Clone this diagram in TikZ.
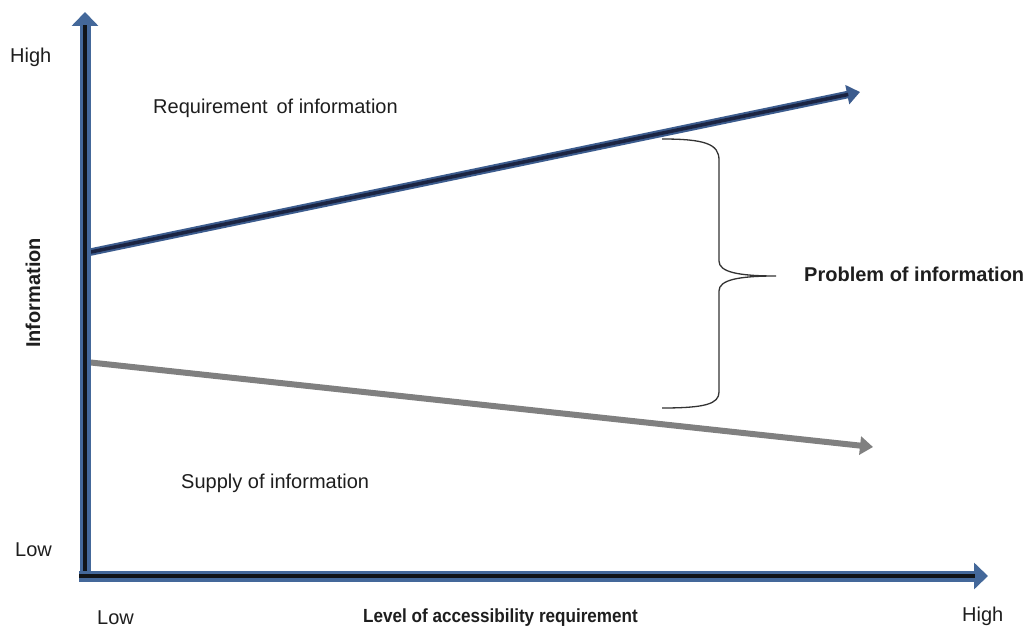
\documentclass[tikz,border=0pt]{standalone}
\usepackage{fontspec}
\setmainfont{Liberation Sans}
\usetikzlibrary{arrows.meta}
\definecolor{axisblue}{HTML}{44689A}
\definecolor{axiscore}{HTML}{111418}
\definecolor{reqblue}{HTML}{3C5C8E}
\definecolor{reqcore}{HTML}{1B2442}
\definecolor{supplygray}{HTML}{808080}
\definecolor{bracegray}{HTML}{333333}
\definecolor{textgray}{HTML}{1E1E1E}
\begin{document}
\begin{tikzpicture}[x=1pt,y=-1pt,
  lbl/.style={inner sep=0pt, font=\fontsize{20}{24}\selectfont, text=textgray},
  boldlbl/.style={lbl, font=\fontsize{20}{24}\selectfont\bfseries},
  axisline/.style={axisblue, line width=11pt, -{Triangle[length=14pt,width=26pt]}},
  axiscoreline/.style={axiscore, line width=4pt, shorten >=13pt},
  reqline/.style={reqblue, line width=7.5pt, -{Triangle[length=13pt,width=19pt]}},
  reqcoreline/.style={reqcore, line width=3.5pt, shorten >=12pt},
  supplyline/.style={supplygray, line width=6pt, -{Triangle[length=13pt,width=18pt]}},
  bracestyle/.style={bracegray, line width=1.3pt}
]
\useasboundingbox[fill=white] (0,0) rectangle (1034,628);

% key points
\coordinate (yfoot) at (85,571);
\coordinate (ytip)  at (85,12);
\coordinate (xfoot) at (79,576);
\coordinate (xtip)  at (988,576);
\coordinate (reqstart) at (86,253);
\coordinate (reqtip)   at (860,92);
\coordinate (supstart) at (86,362);
\coordinate (suptip)   at (873,447);

% requirement and supply lines
\draw[supplyline] (supstart) -- (suptip);
\draw[reqline] (reqstart) -- (reqtip);
\draw[reqcoreline] (reqstart) -- (reqtip);

% axes
\draw[axisline] (yfoot) -- (ytip);
\draw[axiscoreline] (yfoot) -- (ytip);
\draw[axisline] (xfoot) -- (xtip);
\draw[axiscoreline] (xfoot) -- (xtip);

% brace marking the gap
\coordinate (btop) at (662,139);
\coordinate (bmid) at (776,276);
\coordinate (bbot) at (662,408);
\draw[bracestyle] (btop) .. controls (705,139) and (719,144) .. (719,160)
  -- (719,261) .. controls (719,272) and (738,276) .. (bmid)
  .. controls (738,276) and (719,280) .. (719,291)
  -- (719,392) .. controls (719,404) and (705,408) .. (bbot);

% labels
\node[lbl, anchor=base west] (yhigh) at (10,63) {High};
\node[lbl, anchor=base west] (ylow) at (15,556) {Low};
\node[lbl, anchor=base west] (xlow) at (97,624) {Low};
\node[lbl, anchor=base west] (xhigh) at (962,621) {High};
\node[boldlbl, anchor=base west, rotate=90] (ylabel) at (40,348) {Information};
\node[boldlbl, anchor=base west, xscale=0.9, font=\fontsize{19}{22}\selectfont\bfseries] (xlabel) at (363,622) {Level of accessibility requirement};
\node[lbl, anchor=base west] (reqlabel) at (153,114) {Requirement\ \,of information};
\node[lbl, anchor=base west] (suplabel) at (181,488) {Supply of information};
\node[boldlbl, anchor=base west] (problabel) at (804,282) {Problem of information};
\end{tikzpicture}
\end{document}
